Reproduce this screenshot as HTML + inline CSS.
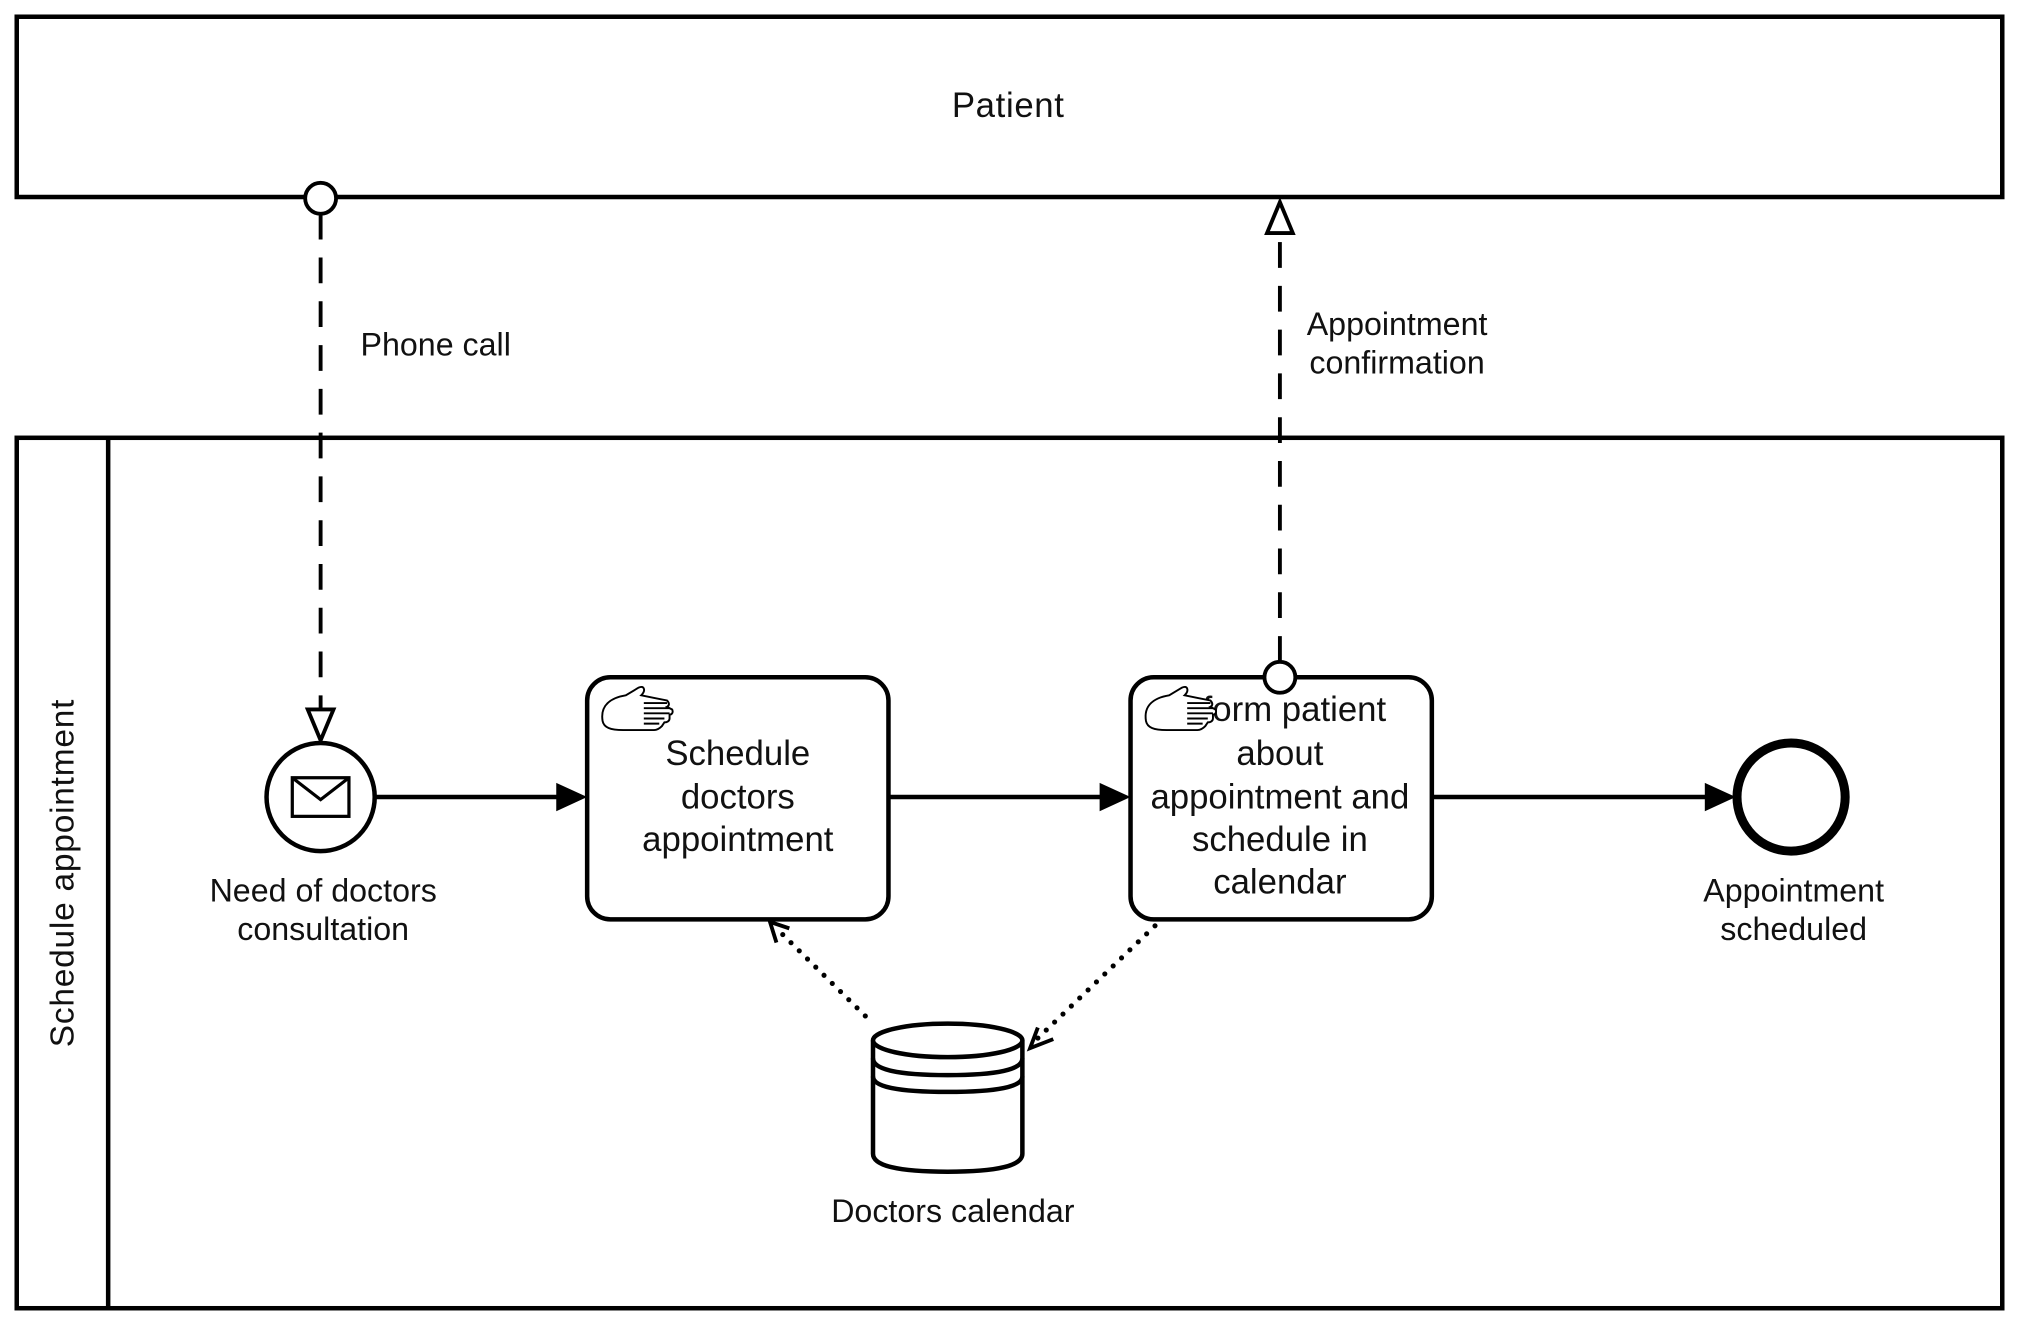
<!DOCTYPE html>
<html><head><meta charset="utf-8"><style>html,body{margin:0;padding:0;background:#fff}svg{display:block}text{font-family:"Liberation Sans",sans-serif;fill:#111}</style></head>
<body>
<svg width="2019" height="1326" viewBox="0 0 1568 1029.8" xmlns="http://www.w3.org/2000/svg">
<g fill="none" stroke="#000" stroke-width="3.5">
<rect x="13" y="13" width="1542" height="140" fill="#fff"/>
<rect x="13" y="340" width="1542" height="676" fill="#fff"/>
<line x1="84" y1="340" x2="84" y2="1016"/>
</g>
<text x="783" y="91" font-size="27" text-anchor="middle" letter-spacing="0.5">Patient</text>
<text transform="translate(57,678) rotate(-90)" font-size="26" text-anchor="middle" letter-spacing="0.6">Schedule appointment</text>

<!-- message flow 1 -->
<line x1="249" y1="166" x2="249" y2="550" stroke="#000" stroke-width="3" stroke-dasharray="20,14"/>
<circle cx="249" cy="154" r="12" fill="#fff" stroke="#000" stroke-width="3"/>
<polygon points="239,551 259,551 249,575" fill="#fff" stroke="#000" stroke-width="3"/>
<text x="280" y="276" font-size="25">Phone call</text>

<!-- message flow 2 -->
<line x1="994" y1="514" x2="994" y2="183" stroke="#000" stroke-width="3" stroke-dasharray="20,14"/>
<polygon points="984,181 1004,181 994,157" fill="#fff" stroke="#000" stroke-width="3"/>
<text x="1085" y="260" font-size="25" text-anchor="middle">Appointment</text>
<text x="1085" y="290" font-size="25" text-anchor="middle">confirmation</text>

<!-- start event -->
<circle cx="249" cy="619" r="42" fill="#fff" stroke="#000" stroke-width="3.5"/>
<rect x="227" y="604" width="44" height="30" fill="#fff" stroke="#000" stroke-width="2.5"/>
<polyline points="227,604 249,621 271,604" fill="none" stroke="#000" stroke-width="2.5"/>
<text x="251" y="700" font-size="25" text-anchor="middle">Need of doctors</text>
<text x="251" y="730" font-size="25" text-anchor="middle">consultation</text>

<!-- sequence flows -->
<g stroke="#000" stroke-width="3.5">
<line x1="292" y1="619" x2="436" y2="619"/>
<line x1="690" y1="619" x2="858" y2="619"/>
<line x1="1112" y1="619" x2="1328" y2="619"/>
</g>
<polygon points="432,608 456,619 432,630" fill="#000"/>
<polygon points="854,608 878,619 854,630" fill="#000"/>
<polygon points="1324,608 1348,619 1324,630" fill="#000"/>

<!-- tasks -->
<rect x="456" y="526" width="234" height="188" rx="18" fill="#fff" stroke="#000" stroke-width="3.5"/>
<text font-size="27" text-anchor="middle"><tspan x="573" y="594">Schedule</tspan><tspan x="573" y="628">doctors</tspan><tspan x="573" y="661">appointment</tspan></text>
<rect x="878" y="526" width="234" height="188" rx="18" fill="#fff" stroke="#000" stroke-width="3.5"/>
<text font-size="27" text-anchor="middle"><tspan x="994" y="560">Inform patient</tspan><tspan x="994" y="594">about</tspan><tspan x="994" y="628">appointment and</tspan><tspan x="994" y="661">schedule in</tspan><tspan x="994" y="694">calendar</tspan></text>
<circle cx="994" cy="526" r="12" fill="#fff" stroke="#000" stroke-width="3"/>

<!-- hand icons -->
<g id="h1" fill="#fff" stroke="#000" stroke-width="1.5">
<path d="M468,560 C466,548 474,542 486,540 L496,534 C500,532 502,536 498,540 L508,542 L518,544 C520,546 520,548 518,549 L522,551 C523,553 522,555 520,555 L520,558 C520,560 518,561 516,561 L514,564 C512,566 510,567 508,567 L484,567 C474,567 469,565 468,560 Z"/>
<path d="M500,546 L518,546 M500,550 L520,550 M500,554 L520,554 M500,558 L516,558 M500,562 L512,562" fill="none"/>
</g>
<use href="#h1" x="422" y="0"/>

<!-- end event -->
<circle cx="1391" cy="619" r="42" fill="#fff" stroke="#000" stroke-width="7"/>
<text x="1393" y="700" font-size="25" text-anchor="middle">Appointment</text>
<text x="1393" y="730" font-size="25" text-anchor="middle">scheduled</text>

<!-- data store -->
<g fill="#fff" stroke="#000" stroke-width="3.5">
<path d="M678,808 L678,896 Q678,910 736,910 Q794,910 794,896 L794,808"/>
<ellipse cx="736" cy="808" rx="58" ry="13"/>
<path d="M678,822 Q678,835 736,835 Q794,835 794,822" fill="none"/>
<path d="M678,836 Q678,848 736,848 Q794,848 794,836" fill="none"/>
</g>
<text x="740" y="949" font-size="25" text-anchor="middle">Doctors calendar</text>

<!-- associations -->
<g stroke="#000" stroke-width="3" fill="none">
<line x1="672" y1="789" x2="602" y2="720" stroke-dasharray="0,9" stroke-linecap="round" stroke-width="4"/>
<polyline points="603,732 598,716 613,721"/>
<line x1="897" y1="719" x2="800" y2="812" stroke-dasharray="0,9" stroke-linecap="round" stroke-width="4"/>
<polyline points="806,798 800,814 818,807"/>
</g>
</svg>
</body></html>
